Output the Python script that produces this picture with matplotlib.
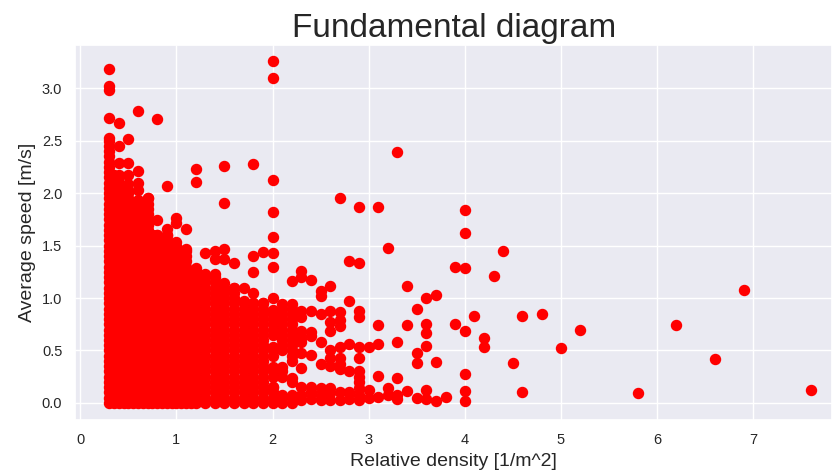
import matplotlib
matplotlib.use("Agg")
import matplotlib.pyplot as plt
import seaborn as sns

# speed levels used to draw the solid (densely sampled) columns
SPEED_LEVELS = [0.00, 0.05, 0.10, 0.15, 0.20, 0.25, 0.30, 0.35, 0.40, 0.45,
                0.50, 0.55, 0.60, 0.65, 0.70, 0.75, 0.80, 0.85, 0.90, 0.95,
                1.00, 1.05, 1.10, 1.15, 1.20, 1.25, 1.30, 1.35, 1.40, 1.45,
                1.50, 1.55, 1.60, 1.65, 1.70, 1.75, 1.80, 1.85, 1.90, 1.95,
                2.00, 2.05, 2.10, 2.15, 2.20, 2.25, 2.30, 2.35, 2.40, 2.45,
                2.50]

# densities where the speeds form solid runs, with (low, high) speed ranges
dense_density = [0.3, 0.35, 0.4, 0.45, 0.5, 0.55, 0.6, 0.65, 0.7, 0.75,
                 0.8, 0.85, 0.9, 0.95, 1.0, 1.05, 1.1, 1.15, 1.2,
                 1.3, 1.4, 1.5, 1.6, 1.7, 1.8, 1.9, 2.0, 2.1, 2.2]
dense_ranges = [
    [(0.0, 2.53)], [(0.0, 2.17)], [(0.0, 2.17)], [(0.0, 2.03)], [(0.0, 2.03)],
    [(0.0, 1.90)], [(0.0, 1.93)], [(0.0, 1.90)], [(0.0, 1.95)], [(0.0, 1.60)],
    [(0.0, 1.60)], [(0.0, 1.55)], [(0.0, 1.60)], [(0.0, 1.50)], [(0.0, 1.53)],
    [(0.0, 1.45)], [(0.0, 1.47)], [(0.0, 1.25)], [(0.0, 1.26)],
    [(0.0, 1.23)], [(0.0, 1.23)], [(0.0, 1.14)], [(0.0, 1.10)], [(0.0, 0.97)],
    [(0.0, 0.95)], [(0.0, 0.95)],
    [(0.65, 0.89), (0.44, 0.53), (0.24, 0.34), (0.0, 0.15)],
    [(0.49, 0.94), (0.21, 0.34), (0.0, 0.08)],
    [(0.37, 0.94), (0.18, 0.24), (0.0, 0.08)],
]

# single observations
sparse_density = [0.3, 0.4, 0.5, 0.6, 0.8, 0.9, 1.0, 1.1, 1.2, 1.3, 1.4, 1.5,
                  1.6, 1.7, 1.8, 1.9, 2.0, 2.2, 2.3, 2.4, 2.5, 2.6, 2.7, 2.8,
                  2.9, 3.0, 3.1, 3.2, 3.3, 3.4, 3.5, 3.6, 3.7, 3.8, 3.9, 4.0,
                  4.1, 4.2, 4.3, 4.4, 4.5, 4.6, 4.8, 5.0, 5.2, 5.8, 6.2, 6.6,
                  6.9, 7.6]
sparse_speed = [
    [2.72, 2.98, 3.02, 3.18],
    [2.29, 2.45, 2.67],
    [2.09, 2.17, 2.29, 2.52],
    [2.03, 2.10, 2.21, 2.78],
    [1.74, 2.71],
    [1.66, 2.07],
    [1.72, 1.76],
    [1.66],
    [1.29, 2.11, 2.23],
    [1.43],
    [1.37, 1.45],
    [1.37, 1.47, 1.91, 2.26],
    [1.33],
    [1.10],
    [1.05, 1.25, 1.40, 2.28],
    [1.44],
    [1.00, 1.30, 1.43, 1.58, 1.82, 2.13, 3.10, 3.26],
    [1.16],
    [1.26, 1.20, 0.88, 0.82, 0.69, 0.62, 0.58, 0.48, 0.33, 0.15, 0.08, 0.03],
    [1.17, 0.88, 0.68, 0.64, 0.46, 0.15, 0.10, 0.04],
    [1.07, 1.02, 0.85, 0.58, 0.37, 0.14, 0.08, 0.03],
    [1.11, 0.88, 0.77, 0.69, 0.50, 0.43, 0.35, 0.14, 0.09, 0.03],
    [1.95, 0.87, 0.79, 0.73, 0.53, 0.43, 0.37, 0.32, 0.10, 0.03],
    [1.35, 0.97, 0.56, 0.30, 0.10, 0.04],
    [1.87, 1.33, 0.88, 0.82, 0.53, 0.43, 0.30, 0.25, 0.20, 0.14, 0.08, 0.03],
    [0.53, 0.12, 0.05],
    [1.87, 0.74, 0.56, 0.26, 0.06],
    [1.48, 0.14, 0.08],
    [2.39, 0.58, 0.24, 0.08, 0.04],
    [1.11, 0.74, 0.11],
    [0.90, 0.48, 0.38, 0.05],
    [1.00, 0.75, 0.67, 0.54, 0.12, 0.04],
    [1.03, 0.39, 0.02],
    [0.06],
    [1.30, 0.75],
    [1.84, 1.62, 1.29, 0.69, 0.28, 0.11, 0.02],
    [0.83],
    [0.62, 0.53],
    [1.21],
    [1.45],
    [0.38],
    [0.83, 0.10],
    [0.85],
    [0.52],
    [0.70],
    [0.09],
    [0.74],
    [0.42],
    [1.08],
    [0.12],
]

# flatten into x / y
xs, ys = [], []
for d, ranges in zip(dense_density, dense_ranges):
    for lo, hi in ranges:
        vals = [v for v in SPEED_LEVELS if lo <= v <= hi] + [hi]
        xs += [d] * len(vals)
        ys += vals
for d, speeds in zip(sparse_density, sparse_speed):
    xs += [d] * len(speeds)
    ys += speeds

sns.set_theme(style="darkgrid")
plt.rcParams['font.family'] = ['Liberation Sans', 'DejaVu Sans']

fig = plt.figure(figsize=(8.32, 4.73), dpi=100)
ax = fig.add_axes([0.0907, 0.112, 0.9093, 0.793])

ax.scatter(xs, ys, s=52, c='red', edgecolors='face', zorder=3)

ax.set_xlim(-0.05, 7.82)
ax.set_ylim(-0.163, 3.413)
ax.set_xticks(range(0, 8))
ax.set_yticks([0.0, 0.5, 1.0, 1.5, 2.0, 2.5, 3.0])
ax.tick_params(labelsize=10.5)

ax.set_title("Fundamental diagram", fontsize=24, pad=6)
ax.set_xlabel("Relative density [1/m^2]", fontsize=14)
ax.set_ylabel("Average speed [m/s]", fontsize=14)

fig.savefig("out.png", dpi=100)
